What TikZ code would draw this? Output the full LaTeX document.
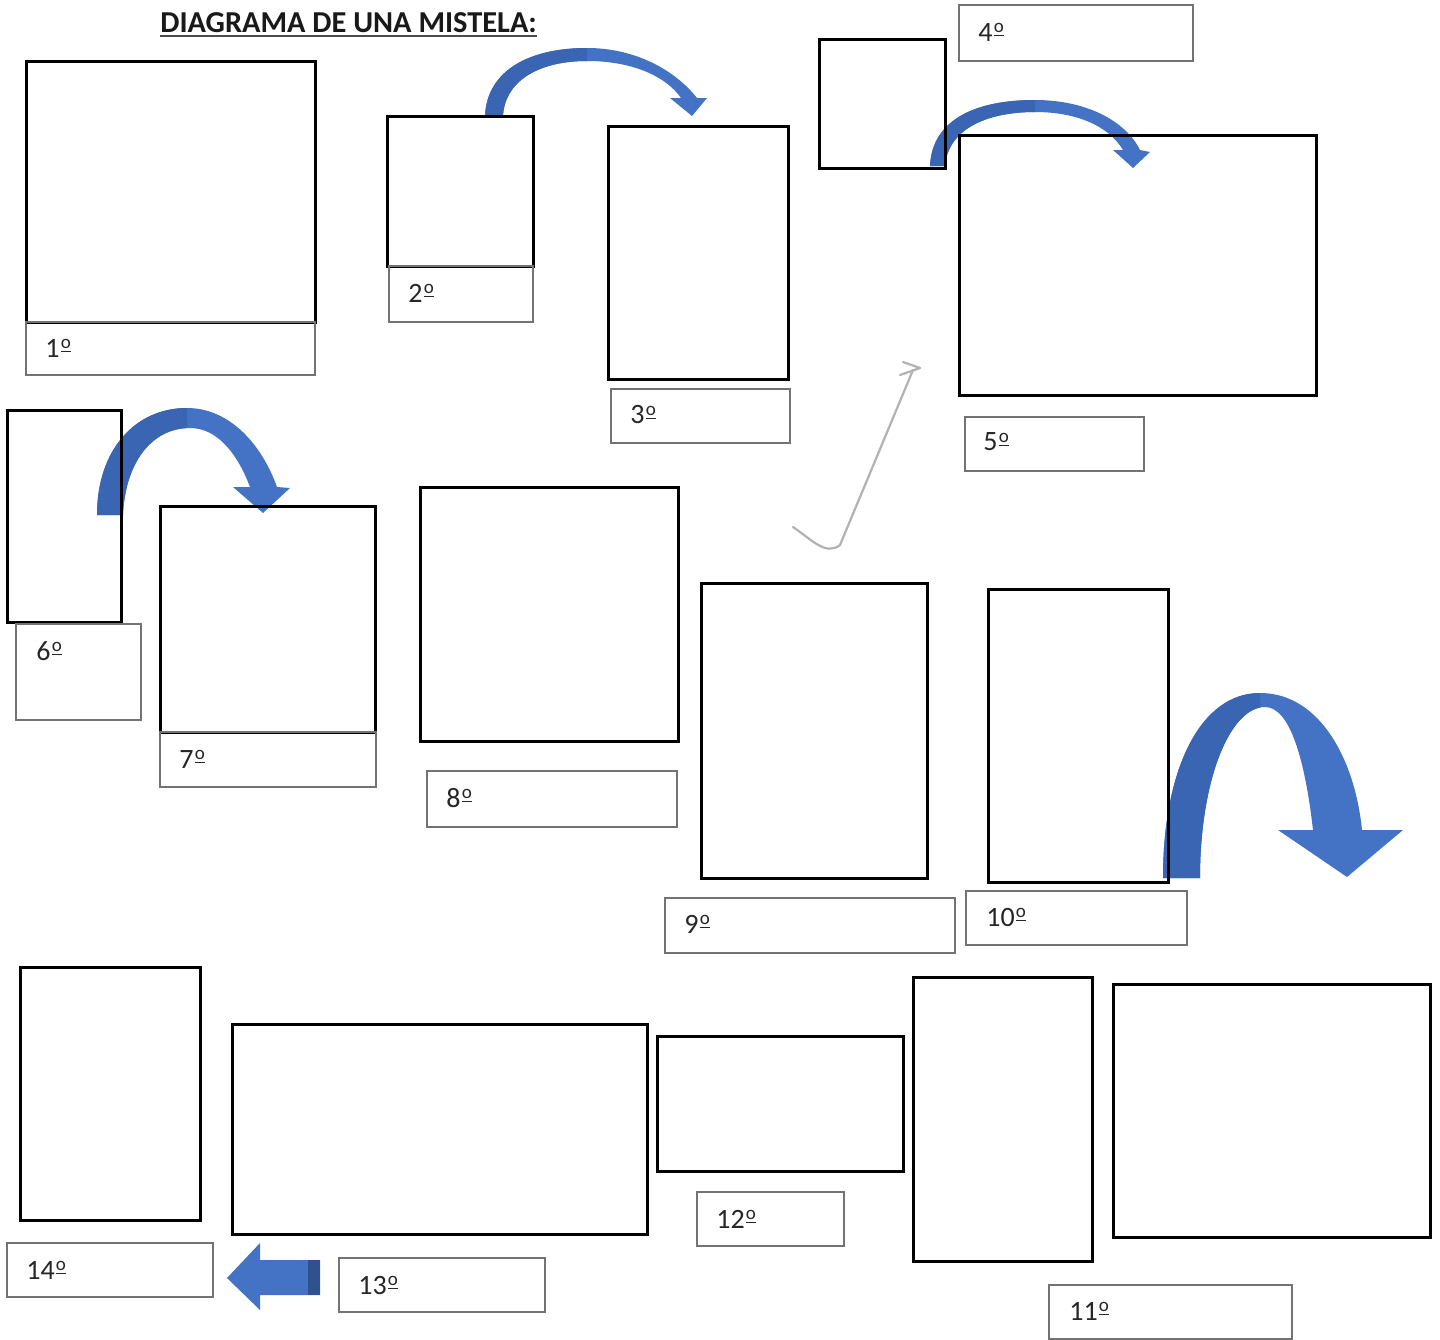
\documentclass[tikz,border=0pt]{standalone}
\usepackage{fontspec}
\setmainfont{Carlito}
\usetikzlibrary{fit}
\definecolor{arrowblue}{HTML}{4472C4}
\definecolor{arrowdark}{HTML}{3A65B2}
\definecolor{arrowedge}{HTML}{2F528F}
\newcommand\ordm{\kern0.6pt\raisebox{0.32em}{\fontsize{9.5}{9.5}\selectfont\underline{o}}}
\tikzset{
  thickbox/.style={draw=black, line width=1.5pt, inner sep=0pt},
  lblbox/.style={draw=black!55, line width=0.7pt, inner sep=0pt},
  lbltext/.style={font=\fontsize{14}{15}\selectfont, text=black!85, inner sep=0pt, anchor=west},
}
\begin{document}
\begin{tikzpicture}[x=0.5pt, y=-0.5pt]
\useasboundingbox (0,0) rectangle (1440,1339);
\fill[white] (0,0) rectangle (1440,1339);

% title
\node[font=\bfseries\fontsize{15.2}{18}\selectfont, inner sep=0pt, anchor=base west, text=black!90] (title) at (160,32) {DIAGRAMA DE UNA MISTELA:};
\draw[black!70, line width=1pt] (title.base west) ++(0,4) coordinate (ul1) -- (title.base east |- ul1);

% curved arrows
\def\arrowA{(485,116) .. controls (487,70) and (530,48) .. (587,48) .. controls (635,48) and (675,70) .. (697,98) -- (707,98) -- (692,116) -- (670,98) -- (681,98) .. controls (665,75) and (630,61) .. (587,61) .. controls (540,61) and (505,80) .. (503,116) -- cycle}
\def\arrowB{(930,166) .. controls (932,120) and (975,100) .. (1035,100) .. controls (1085,100) and (1125,120) .. (1140,150) -- (1150,152) -- (1133,168) -- (1113,150) -- (1123,150) .. controls (1108,125) and (1075,112) .. (1035,112) .. controls (985,112) and (948,130) .. (945,166) -- cycle}
\def\arrowC{(97,515) .. controls (97,450) and (135,408) .. (187,408) .. controls (230,408) and (262,445) .. (277,487) -- (290,488) -- (263,513) -- (233,487) -- (250,487) .. controls (238,455) and (218,428) .. (190,428) .. controls (150,428) and (125,465) .. (123,515) -- cycle}
\def\arrowD{(1163,878) .. controls (1163,770) and (1200,693) .. (1260,693) .. controls (1320,693) and (1355,760) .. (1362,830) -- (1403,830) -- (1347,877) -- (1278,830) -- (1313,830) .. controls (1305,760) and (1290,707) .. (1265,707) .. controls (1230,707) and (1200,780) .. (1200,878) -- cycle}

\fill[arrowblue] \arrowA;
\begin{scope}\clip (0,0) rectangle (587,200); \fill[arrowdark] \arrowA; \end{scope}
\fill[arrowblue] \arrowB;
\begin{scope}\clip (0,0) rectangle (1035,200); \fill[arrowdark] \arrowB; \end{scope}
\fill[arrowblue] \arrowC;
\begin{scope}\clip (0,300) rectangle (187,600); \fill[arrowdark] \arrowC; \end{scope}
\fill[arrowblue] \arrowD;
\begin{scope}\clip (1100,600) rectangle (1260,900); \fill[arrowdark] \arrowD; \end{scope}

% left straight arrow
\fill[arrowblue] (227,1278) -- (260,1243) -- (260,1260) -- (320,1260) -- (320,1295) -- (260,1295) -- (260,1310) -- cycle;
\fill[arrowedge] (308,1260) rectangle (320,1295);

% hand drawn arrow
\draw[black!30, line width=1.1pt, line cap=round, line join=round] (793,527) .. controls (812,540) and (826,556) .. (840,545) -- (913,370);
\draw[black!30, line width=1.1pt, line cap=round, line join=round] (903,362) -- (920,368) -- (900,375);

% boxes
\node[thickbox, fit={(26,61) (315,322)}] (b1) {};
\node[thickbox, fit={(387,116) (533,266)}] (b2) {};
\node[thickbox, fit={(608,126) (788,379)}] (b3) {};
\node[thickbox, fit={(819,39) (945,168)}] (b4) {};
\node[thickbox, fit={(959,135) (1316,395)}] (b5) {};
\node[thickbox, fit={(7,410) (121,622)}] (b6) {};
\node[thickbox, fit={(160,506) (375,732)}] (b7) {};
\node[thickbox, fit={(420,487) (678,741)}] (b8) {};
\node[thickbox, fit={(701,583) (927,878)}] (b9) {};
\node[thickbox, fit={(988,589) (1168,882)}] (b10) {};
\node[thickbox, fit={(913,977) (1092,1261)}] (b11a) {};
\node[thickbox, fit={(1113,984) (1430,1237)}] (b11b) {};
\node[thickbox, fit={(657,1036) (903,1171)}] (b12) {};
\node[thickbox, fit={(232,1024) (647,1234)}] (b13) {};
\node[thickbox, fit={(20,967) (200,1220)}] (b14) {};

% label boxes
\node[lblbox, fit={(26,322) (315,375)}] (l1) {};
\node[lblbox, fit={(389,266) (533,322)}] (l2) {};
\node[lblbox, fit={(611,389) (790,443)}] (l3) {};
\node[lblbox, fit={(959,5) (1193,61)}] (l4) {};
\node[lblbox, fit={(965,417) (1144,471)}] (l5) {};
\node[lblbox, fit={(16,624) (141,720)}] (l6) {};
\node[lblbox, fit={(160,732) (376,787)}] (l7) {};
\node[lblbox, fit={(427,771) (677,827)}] (l8) {};
\node[lblbox, fit={(665,898) (955,953)}] (l9) {};
\node[lblbox, fit={(966,891) (1187,945)}] (l10) {};
\node[lblbox, fit={(1049,1285) (1292,1339)}] (l11) {};
\node[lblbox, fit={(697,1192) (844,1246)}] (l12) {};
\node[lblbox, fit={(339,1258) (545,1312)}] (l13) {};
\node[lblbox, fit={(7,1243) (213,1297)}] (l14) {};

% label texts
\node[lbltext] (t1) at (45,348) {1\ordm};
\node[lbltext] (t2) at (408,293) {2\ordm};
\node[lbltext] (t3) at (630,415) {3\ordm};
\node[lbltext] (t4) at (978,32) {4\ordm};
\node[lbltext] (t5) at (983,442) {5\ordm};
\node[lbltext] (t6) at (36,651) {6\ordm};
\node[lbltext] (t7) at (179,759) {7\ordm};
\node[lbltext] (t8) at (446,798) {8\ordm};
\node[lbltext] (t9) at (684,924) {9\ordm};
\node[lbltext] (t10) at (986,917) {10\ordm};
\node[lbltext] (t11) at (1069,1311) {11\ordm};
\node[lbltext] (t12) at (716,1219) {12\ordm};
\node[lbltext] (t13) at (358,1285) {13\ordm};
\node[lbltext] (t14) at (26,1270) {14\ordm};
\end{tikzpicture}
\end{document}
